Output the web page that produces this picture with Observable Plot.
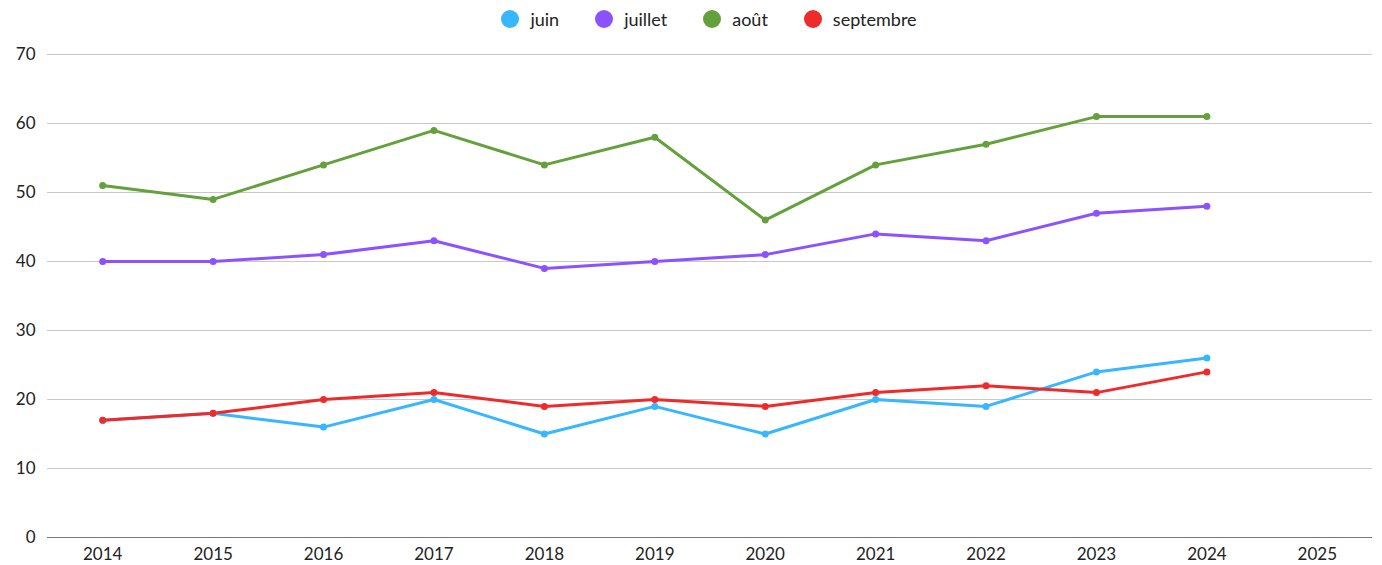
<!DOCTYPE html>
<html>
<head>
<meta charset="utf-8">
<script src="https://cdn.jsdelivr.net/npm/d3@7"></script>
<script src="https://cdn.jsdelivr.net/npm/@observablehq/plot@0.6"></script>
<style>
  body { margin: 0; background: #fff; font-family: Lato, sans-serif; }
  #legend { height: 38px; display: flex; justify-content: center; align-items: center; gap: 0; font-size: 18px; color: #222; padding-left: 36px; }
  .item { display: flex; align-items: center; margin: 0 18px; }
  .sw { width: 18px; height: 18px; border-radius: 50%; margin-right: 11px; }
</style>
</head>
<body>
<div id="legend"></div>
<div id="chart"></div>
<script>
const years = [2014, 2015, 2016, 2017, 2018, 2019, 2020, 2021, 2022, 2023, 2024];
const axisYears = [2014, 2015, 2016, 2017, 2018, 2019, 2020, 2021, 2022, 2023, 2024, 2025];
const seriesNames = ["juin", "juillet", "août", "septembre"];
const juin = [17, 18, 16, 20, 15, 19, 15, 20, 19, 24, 26];
const juillet = [40, 40, 41, 43, 39, 40, 41, 44, 43, 47, 48];
const aout = [51, 49, 54, 59, 54, 58, 46, 54, 57, 61, 61];
const septembre = [17, 18, 20, 21, 19, 20, 19, 21, 22, 21, 24];
const colors = ["#38b6ff", "#8c52ff", "#64a03c", "#ee2a2a"];
const yTicks = [0, 10, 20, 30, 40, 50, 60, 70];

const seriesValues = [juin, juillet, aout, septembre];
const data = [];
seriesNames.forEach((name, si) => {
  years.forEach((yr, i) => data.push({ series: name, year: yr, value: seriesValues[si][i] }));
});

const legend = document.getElementById("legend");
seriesNames.forEach((n, i) => {
  const d = document.createElement("div");
  d.className = "item";
  d.innerHTML = `<span class="sw" style="background:${colors[i]}"></span><span>${n}</span>`;
  legend.appendChild(d);
});

const chart = Plot.plot({
  width: 1382,
  height: 527,
  marginTop: 16,
  marginBottom: 28,
  marginLeft: 47,
  marginRight: 10,
  style: { fontFamily: "Lato, sans-serif", fontSize: "17px", color: "#222" },
  x: { type: "point", domain: axisYears, padding: 0.5, round: false, tickSize: 0, tickPadding: 10, tickFormat: d => String(d), label: null },
  y: { domain: [0, 70], ticks: yTicks, tickSize: 0, tickPadding: 12, label: null },
  color: { domain: seriesNames, range: colors },
  marks: [
    Plot.ruleY(yTicks.filter(t => t > 0), { stroke: "#c8c8c8", strokeWidth: 1, strokeOpacity: 1 }),
    Plot.ruleY([0], { stroke: "#777", strokeWidth: 1 }),
    Plot.line(data, { x: "year", y: "value", z: "series", stroke: "series", strokeWidth: 3 }),
    Plot.dot(data, { x: "year", y: "value", fill: "series", r: 3.5 })
  ]
});
document.getElementById("chart").appendChild(chart);
</script>
</body>
</html>
